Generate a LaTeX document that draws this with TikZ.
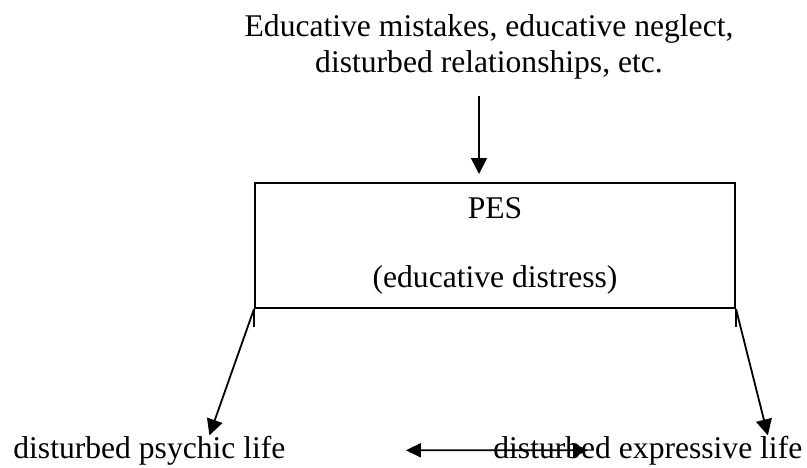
\documentclass[tikz,border=0pt]{standalone}
\usepackage{fontspec}
\setmainfont{Liberation Serif}
\usetikzlibrary{arrows.meta,positioning}

\begin{document}
\begin{tikzpicture}[
				x=0.5pt,y=-0.5pt,
				txt/.style={inner sep=0pt,font=\fontsize{15.8}{18}\selectfont,align=center},
				statebox/.style={draw,rectangle,line width=1pt,minimum width=240pt,minimum height=62.5pt,inner sep=0pt,font=\fontsize{15.8}{18}\selectfont,align=center},
				arr/.style={-{Triangle[length=8pt,width=8pt]},line width=0.9pt},
				dblarr/.style={{Triangle[length=7.5pt,width=7pt]}-{Triangle[length=7.5pt,width=7pt]},line width=0.9pt}
				]
				\useasboundingbox (0,0) rectangle (807,467);
				
				% Ursachen
				\node[txt,anchor=north] (cause) at (489,14) {Educative mistakes, educative neglect,\\disturbed relationships, etc.};
				
				% Box PES
				\node[statebox] (pes) at (495,245.5) {PES\\[16.5pt](educative distress)};
				\draw[line width=1pt] (pes.south west) -- ++(0,18);
				\draw[line width=1pt] (pes.south east) -- ++(0,18);
				
				% Folgen
				\node[txt,anchor=base west] (psy) at (13,458) {disturbed psychic life};
				\node[txt,anchor=base west] (expr) at (493,458) {disturbed expressive life};
				
				% Pfeile
				\draw[arr] ([xshift=-5pt,yshift=-8.5pt]cause.south) -- ([xshift=-8pt,yshift=4pt]pes.north);
				\draw[arr] (pes.south west) -- ([xshift=30pt]psy.north);
				\draw[arr] (pes.south east) -- ([xshift=60pt]expr.north);
				\draw[dblarr] ([xshift=60pt]psy.east) -- ([xshift=47.5pt]expr.west);
				
			\end{tikzpicture}
\end{document}
